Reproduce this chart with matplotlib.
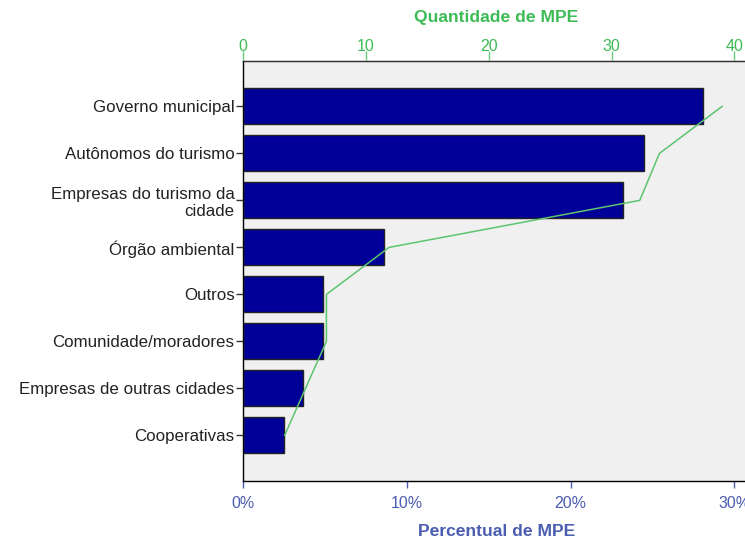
import matplotlib.pyplot as plt

# categories (top to bottom) and values
categorias = ["Governo municipal", "Autônomos do turismo", "Empresas do turismo da\ncidade",
              "Órgão ambiental", "Outros", "Comunidade/moradores",
              "Empresas de outras cidades", "Cooperativas"]
percentual = [28.1, 24.5, 23.2, 8.6, 4.9, 4.9, 3.7, 2.5]
quantidade = [39.0, 33.9, 32.3, 11.9, 6.8, 6.8, 5.1, 3.4]

pct_ticks = [0, 10, 20, 30]
pct_labels = ["0%", "10%", "20%", "30%"]
qtd_ticks = [0, 10, 20, 30, 40]

plt.rcParams['font.family'] = ['Liberation Sans', 'DejaVu Sans']

blue_txt = "#4a5db0"
green_txt = "#3dbb55"

fig = plt.figure(figsize=(7.45, 5.38), dpi=100)
ax = fig.add_axes([0.326, 0.106, 0.68, 0.781])
ax.set_facecolor("#f0f0f0")

pos = list(range(len(categorias)))
ax.barh(pos, percentual, height=0.77, color="#000099", edgecolor="#222222", linewidth=1.0, zorder=2)
ax.set_ylim(7.97, -0.97)
ax.set_xlim(0, 30.92)
ax.set_yticks(pos)
ax.set_yticklabels(categorias, fontsize=12.2, color="#222222", ha="right",
                   multialignment="right", linespacing=1.15)
ax.tick_params(axis="y", length=5, width=1, color="#333333", pad=1)

ax.set_xticks(pct_ticks)
ax.set_xticklabels(pct_labels, fontsize=11.5, color=blue_txt)
ax.tick_params(axis="x", length=5, width=1, color=blue_txt, pad=6)
ax.set_xlabel("Percentual de MPE", fontsize=12.6, fontweight="bold", color=blue_txt, labelpad=9)

for s in ["left", "bottom", "top"]:
    ax.spines[s].set_color("#333333")
    ax.spines[s].set_linewidth(1.0)
ax.spines["right"].set_visible(False)

# second axis for the count line
ax2 = ax.twiny()
ax2.set_xlim(0, 30.92 * 4 / 3)
ax2.plot(quantidade, pos, color="#5cc46f", linewidth=1.1, zorder=3)
ax2.set_xticks(qtd_ticks)
ax2.set_xticklabels([str(t) for t in qtd_ticks], fontsize=11.5, color=green_txt)
ax2.tick_params(axis="x", length=7, width=1, color="#6ccc7e", pad=-2)
ax2.set_xlabel("Quantidade de MPE", fontsize=12.6, fontweight="bold", color=green_txt, labelpad=12)
ax2.spines["right"].set_visible(False)
ax2.spines["top"].set_color("#333333")

fig.savefig("out.png", dpi=100)
